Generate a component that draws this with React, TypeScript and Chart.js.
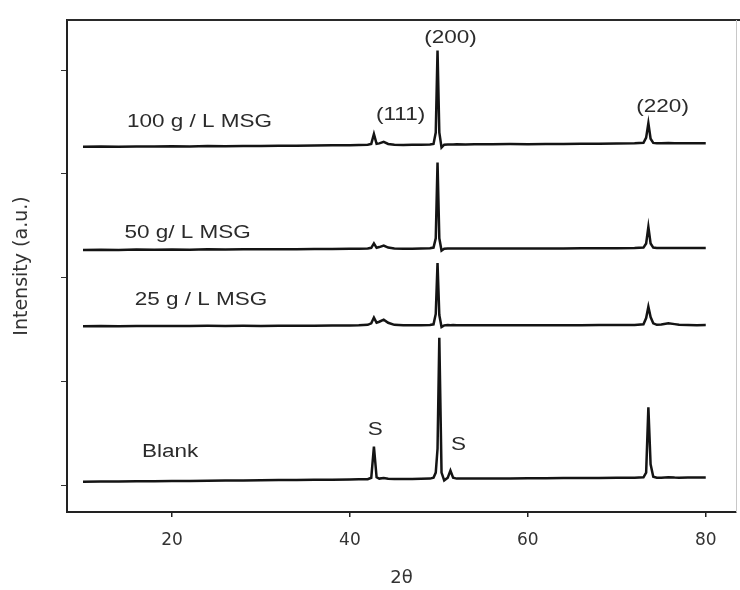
import React, { useEffect, useRef } from "react";
import { Chart, registerables } from "chart.js";

Chart.register(...registerables);

// 2θ grid shared by all four patterns
const twoTheta = [10, 12, 14, 16, 18, 20, 22, 24, 26, 28, 30, 32, 34, 36, 38, 40, 41, 42,
  42.4, 42.7, 43.0, 43.3, 43.8, 44.3, 45, 46, 47, 48, 49,
  49.4, 49.65, 49.85, 50.05, 50.3, 50.6, 51.0, 51.3, 51.6, 52, 53, 54, 56, 58, 60, 62, 64, 66, 68, 70, 72,
  73.0, 73.3, 73.55, 73.8, 74.1, 74.5, 75, 75.8, 76.5, 77, 78, 79, 80];

// stacked intensities (a.u.)
const msg100 = [3.262, 3.265, 3.262, 3.266, 3.264, 3.268, 3.266, 3.27, 3.268, 3.271, 3.27, 3.273, 3.272, 3.275, 3.276, 3.278, 3.28, 3.282,
  3.29, 3.385, 3.29, 3.295, 3.31, 3.29, 3.283, 3.28, 3.281, 3.282, 3.284,
  3.29, 3.40, 4.19, 3.40, 3.255, 3.282, 3.285, 3.284, 3.285, 3.286, 3.285, 3.287, 3.286, 3.288, 3.287, 3.29, 3.289, 3.291, 3.292, 3.294, 3.296,
  3.30, 3.35, 3.49, 3.34, 3.30, 3.296, 3.297, 3.298, 3.297, 3.296, 3.297, 3.296, 3.297];

const msg50 = [2.268, 2.27, 2.268, 2.271, 2.27, 2.272, 2.27, 2.273, 2.272, 2.274, 2.273, 2.275, 2.274, 2.276, 2.276, 2.278, 2.279, 2.281,
  2.288, 2.33, 2.288, 2.295, 2.31, 2.29, 2.282, 2.28, 2.28, 2.281, 2.283,
  2.29, 2.38, 3.11, 2.38, 2.262, 2.28, 2.282, 2.281, 2.282, 2.282, 2.281, 2.282, 2.281, 2.282, 2.281, 2.282, 2.282, 2.283, 2.283, 2.284, 2.285,
  2.29, 2.33, 2.49, 2.33, 2.29, 2.286, 2.287, 2.286, 2.286, 2.285, 2.286, 2.285, 2.286];

const msg25 = [1.532, 1.534, 1.532, 1.535, 1.533, 1.535, 1.534, 1.536, 1.535, 1.536, 1.535, 1.537, 1.536, 1.537, 1.538, 1.539, 1.54, 1.545,
  1.56, 1.615, 1.565, 1.575, 1.595, 1.565, 1.545, 1.54, 1.54, 1.541, 1.543,
  1.55, 1.65, 2.14, 1.64, 1.525, 1.54, 1.543, 1.542, 1.543, 1.542, 1.541, 1.542, 1.541, 1.542, 1.541, 1.542, 1.542, 1.542, 1.543, 1.543, 1.544,
  1.55, 1.61, 1.72, 1.62, 1.56, 1.545, 1.548, 1.56, 1.552, 1.545, 1.543, 1.542, 1.543];

const blank = [0.031, 0.033, 0.034, 0.036, 0.037, 0.039, 0.04, 0.042, 0.043, 0.045, 0.046, 0.048, 0.049, 0.051, 0.052, 0.054, 0.055, 0.057,
  0.07, 0.37, 0.075, 0.062, 0.068, 0.06, 0.058, 0.058, 0.059, 0.06, 0.062,
  0.07, 0.12, 0.35, 1.42, 0.12, 0.045, 0.07, 0.14, 0.07, 0.062, 0.062, 0.063, 0.063, 0.064, 0.065, 0.066, 0.067, 0.068, 0.069, 0.07, 0.071,
  0.075, 0.12, 0.75, 0.2, 0.08, 0.07, 0.071, 0.075, 0.072, 0.071, 0.072, 0.072, 0.073];

const seriesNames = ["100 g / L MSG", "50 g/ L MSG", "25 g / L MSG", "Blank"];
const xTickValues = [20, 40, 60, 80];

// annotation texts and their data-space anchors
const labelTexts = ["100 g / L MSG", "(111)", "(200)", "(220)", "50 g/ L MSG", "25 g / L MSG", "Blank", "S", "S"];
const labelX = [23.1, 45.7, 51.3, 75.15, 21.75, 23.26, 19.8, 42.85, 52.2];
const labelY = [3.505, 3.57, 4.31, 3.645, 2.43, 1.784, 0.318, 0.53, 0.386];

export default function App() {
  const ref = useRef<HTMLCanvasElement | null>(null);

  useEffect(() => {
    if (!ref.current) return;
    const seriesData = [msg100, msg50, msg25, blank];

    const framePlugin = {
      id: "frame",
      afterDraw(chart: any) {
        const { ctx, chartArea } = chart;
        ctx.save();
        ctx.strokeStyle = "#2a2a2a";
        ctx.lineWidth = 2;
        ctx.beginPath();
        ctx.moveTo(chartArea.left, chartArea.top);
        ctx.lineTo(chartArea.right + 4, chartArea.top);
        ctx.stroke();
        ctx.strokeStyle = "#c8c8c8";
        ctx.lineWidth = 1;
        ctx.beginPath();
        ctx.moveTo(chartArea.right + 0.5, chartArea.top);
        ctx.lineTo(chartArea.right + 0.5, chartArea.bottom);
        ctx.stroke();
        ctx.restore();
      },
    };

    const labelPlugin = {
      id: "peakLabels",
      afterDatasetsDraw(chart: any) {
        const { ctx } = chart;
        const xs = chart.scales.x;
        const ys = chart.scales.y;
        ctx.save();
        ctx.fillStyle = "#2b2b2b";
        ctx.font = "18px 'Liberation Sans', Arial, sans-serif";
        ctx.textAlign = "center";
        ctx.textBaseline = "middle";
        labelTexts.forEach((t, i) => {
          const px = xs.getPixelForValue(labelX[i]);
          const py = ys.getPixelForValue(labelY[i]);
          ctx.save();
          ctx.translate(px, py);
          ctx.scale(1.25, 1);
          ctx.fillText(t, 0, 0);
          ctx.restore();
        });
        ctx.restore();
      },
    };

    const chart = new Chart(ref.current, {
      type: "line",
      data: {
        datasets: seriesData.map((vals, i) => ({
          label: seriesNames[i],
          data: twoTheta.map((x, j) => ({ x, y: vals[j] })),
          borderColor: "#141414",
          borderWidth: 2.5,
          pointRadius: 0,
          tension: 0,
          fill: false,
        })),
      },
      options: {
        responsive: false,
        animation: false,
        layout: { padding: { top: 20, right: 4, left: 0, bottom: 0 } },
        plugins: { legend: { display: false }, tooltip: { enabled: false } },
        scales: {
          x: {
            type: "linear",
            min: 8.2,
            max: 83.4,
            afterFit: (s: any) => { s.height = 78; },
            afterBuildTicks: (s: any) => { s.ticks = xTickValues.map((v) => ({ value: v })); },
            ticks: {
              includeBounds: false,
              padding: 13,
              color: "#333",
              font: { family: "'DejaVu Sans', sans-serif", size: 17 },
            },
            grid: { display: true, drawOnChartArea: false, drawTicks: true, tickLength: 5, color: "#222", lineWidth: 1.5 },
            border: { display: true, color: "#222", width: 2 },
            title: {
              display: true,
              text: "2θ",
              color: "#333",
              font: { family: "'DejaVu Sans', sans-serif", size: 18 },
              padding: { top: 0, bottom: 1 },
            },
          },
          y: {
            type: "linear",
            min: -0.26,
            max: 4.485,
            afterFit: (s: any) => { s.width = 67; },
            ticks: { stepSize: 1, includeBounds: false, display: false },
            grid: { display: true, drawOnChartArea: false, drawTicks: true, tickLength: 6, color: "#333", lineWidth: 1 },
            border: { display: true, color: "#222", width: 2 },
            title: {
              display: true,
              text: "Intensity (a.u.)",
              color: "#333",
              font: { family: "'DejaVu Sans', sans-serif", size: 19 },
              padding: { top: 10.5, bottom: 0 },
            },
          },
        },
      },
      plugins: [framePlugin, labelPlugin],
    } as any);

    return () => chart.destroy();
  }, []);

  return (
    <div style={{ position: "absolute", left: 0, top: 0, width: 740, height: 590, background: "#fff" }}>
      <canvas ref={ref} width={740} height={590} />
    </div>
  );
}
